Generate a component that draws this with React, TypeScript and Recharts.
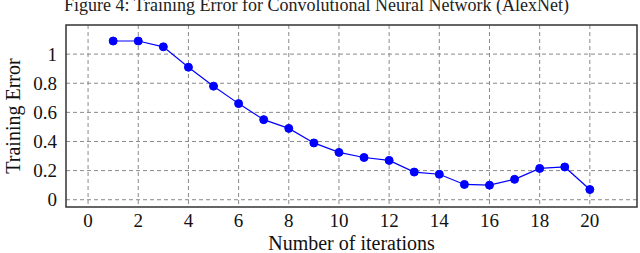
import { LineChart, Line, XAxis, YAxis, CartesianGrid, ReferenceArea, Label } from 'recharts';

const iterations = [1, 2, 3, 4, 5, 6, 7, 8, 9, 10, 11, 12, 13, 14, 15, 16, 17, 18, 19, 20];
const trainingError = [
  1.09, 1.09, 1.05, 0.91, 0.78, 0.66, 0.55, 0.49, 0.39, 0.325,
  0.29, 0.27, 0.19, 0.175, 0.105, 0.1, 0.14, 0.215, 0.225, 0.07,
];
const xTicks = [0, 2, 4, 6, 8, 10, 12, 14, 16, 18, 20];
const yTicks = [0, 0.2, 0.4, 0.6, 0.8, 1];

const X_DOMAIN: [number, number] = [-0.88, 21.88];
const Y_DOMAIN: [number, number] = [-0.05, 1.2];

const FONT = '"Liberation Serif", "Times New Roman", serif';

export default function App() {
  const data = iterations.map((it, i) => ({ it, err: trainingError[i] }));

  return (
    <div style={{ position: 'absolute', left: 0, top: 0, width: 640, height: 253, background: '#fff', overflow: 'hidden' }}>
      <div
        style={{
          position: 'absolute',
          left: 64,
          top: -5,
          fontFamily: FONT,
          fontSize: 18,
          lineHeight: '20px',
          whiteSpace: 'nowrap',
          color: '#222',
        }}
      >
        Figure 4: Training Error for Convolutional Neural Network (AlexNet)
      </div>
      <LineChart width={640} height={253} data={data} margin={{ top: 25, right: 3, bottom: 0, left: 0 }}>
        <CartesianGrid stroke="#8a8a8a" strokeDasharray="4 3" strokeWidth={1} horizontalValues={yTicks} verticalValues={xTicks} />
        <XAxis
          dataKey="it"
          type="number"
          domain={X_DOMAIN}
          ticks={xTicks}
          allowDataOverflow
          axisLine={false}
          tickLine={false}
          height={46}
          tick={{ fontFamily: FONT, fontSize: 19, fill: '#111' }}
          tickMargin={1}
        >
          <Label value="Number of iterations" position="insideBottom" offset={3} style={{ fontFamily: FONT, fontSize: 20, fill: '#111' }} />
        </XAxis>
        <YAxis
          type="number"
          domain={Y_DOMAIN}
          ticks={yTicks}
          allowDataOverflow
          axisLine={false}
          tickLine={false}
          width={66}
          tick={{ fontFamily: FONT, fontSize: 19, fill: '#111' }}
          tickMargin={3}
        >
          <Label
            value="Training Error"
            angle={-90}
            position="insideLeft"
            offset={13}
            style={{ fontFamily: FONT, fontSize: 20, fill: '#111', textAnchor: 'middle' }}
          />
        </YAxis>
        <ReferenceArea x1={X_DOMAIN[0]} x2={X_DOMAIN[1]} y1={Y_DOMAIN[0]} y2={Y_DOMAIN[1]} fill="none" stroke="#333" strokeWidth={1.5} />
        <Line
          type="linear"
          dataKey="err"
          stroke="#0000ff"
          strokeWidth={1.2}
          dot={{ r: 4, fill: '#0000ff', stroke: '#0000ff', strokeWidth: 1 }}
          isAnimationActive={false}
        />
      </LineChart>
    </div>
  );
}
